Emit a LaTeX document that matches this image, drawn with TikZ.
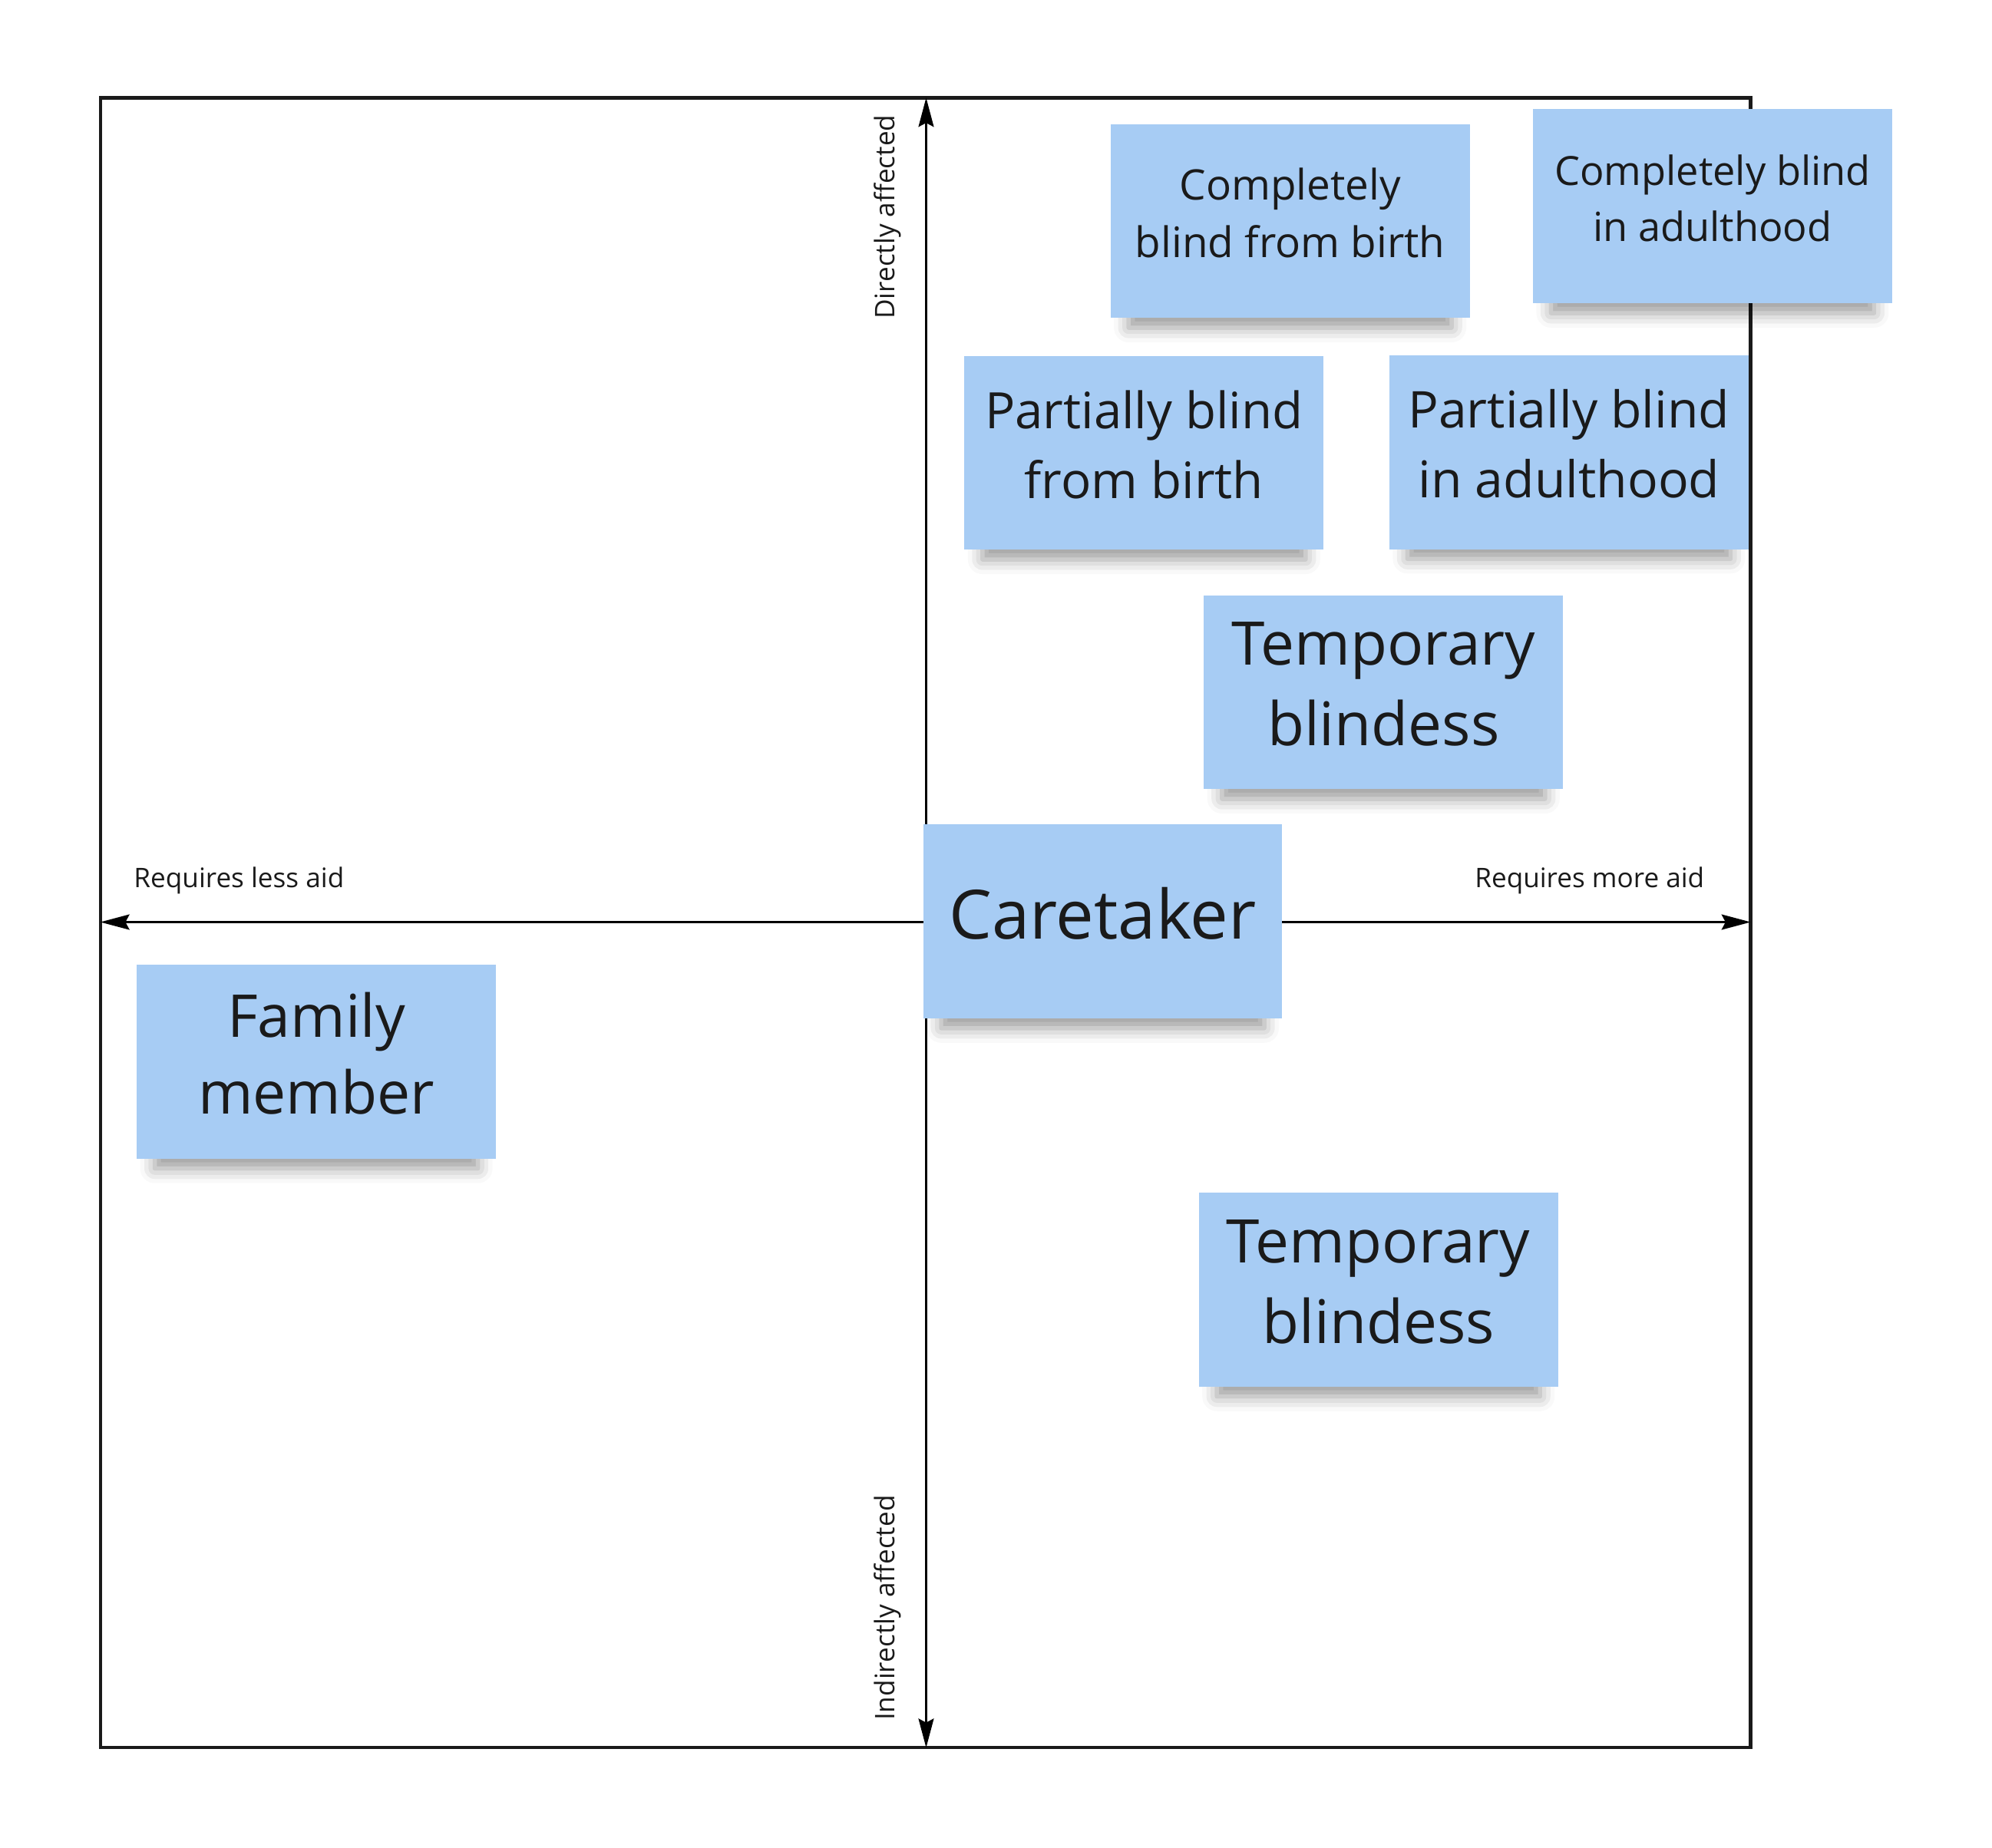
\documentclass[tikz,border=0pt]{standalone}
\usepackage{fontspec}
\setmainfont{Open Sans}
\usepackage{xcolor}
\usepackage{tikz}
\usetikzlibrary{arrows.meta,shadows.blur}

\definecolor{stickyblue}{RGB}{167,204,244}
\definecolor{inkdark}{RGB}{26,26,26}

\begin{document}
\begin{tikzpicture}[x=0.01655cm,y=-0.01655cm,
  sticky/.style={fill=stickyblue, text=inkdark, align=center, inner sep=0pt,
    minimum width=4.68cm, minimum height=2.53cm, text depth=0.62em,
    blur shadow={shadow xshift=0pt, shadow yshift=-8pt, shadow scale=0.9,
      shadow blur radius=6pt, shadow opacity=40}},
  axislabel/.style={font=\fontsize{10}{12}\selectfont, text=inkdark, inner sep=0pt},
  axisarrow/.style={line width=0.6pt,
    {Stealth[length=10.8pt,width=5.7pt,inset=1.5pt]}-{Stealth[length=10.8pt,width=5.7pt,inset=1.5pt]}}]
\useasboundingbox (0,0) rectangle (1568,1455);

\draw[line width=1.2pt, color=inkdark] (79,77) rectangle (1378,1376);

\coordinate (top) at (729,77);
\coordinate (bottom) at (729,1376);
\coordinate (left) at (79,726);
\coordinate (right) at (1378,726);
\draw[axisarrow] (bottom) -- (top);
\draw[axisarrow] (right) -- (left);

\node[axislabel, anchor=base west] (lessaid) at (105,699) {Requires less aid};
\node[axislabel, anchor=base east] (moreaid) at (1342,699) {Requires more aid};
\node[axislabel, rotate=90, anchor=base east] (direct) at (704,90) {Directly affected};
\node[axislabel, rotate=90, anchor=base west] (indirect) at (704,1355) {Indirectly affected};

\node[sticky, font=\fontsize{15.6}{21.5}\selectfont] (blindbirth) at (1015.5,174) {Completely\\blind from birth};
\node[sticky, font=\fontsize{14.9}{20.8}\selectfont] (blindadult) at (1348,162.5) {Completely blind\\in adulthood};
\node[sticky, font=\fontsize{18.6}{25.9}\selectfont] (partbirth) at (900.5,356.5) {Partially blind\\from birth};
\node[sticky, font=\fontsize{18.8}{25.9}\selectfont] (partadult) at (1235,356) {Partially blind\\in adulthood};
\node[sticky, font=\fontsize{22.3}{29.8}\selectfont] (tempup) at (1089,545) {Temporary\\blindess};
\node[sticky, font=\fontsize{25.2}{30}\selectfont] (caretaker) at (868,725.5) {Caretaker};
\node[sticky, font=\fontsize{21.9}{28.5}\selectfont] (family) at (249,836) {Family\\member};
\node[sticky, font=\fontsize{22.3}{29.8}\selectfont] (tempdown) at (1085,1015.5) {Temporary\\blindess};
\end{tikzpicture}
\end{document}
